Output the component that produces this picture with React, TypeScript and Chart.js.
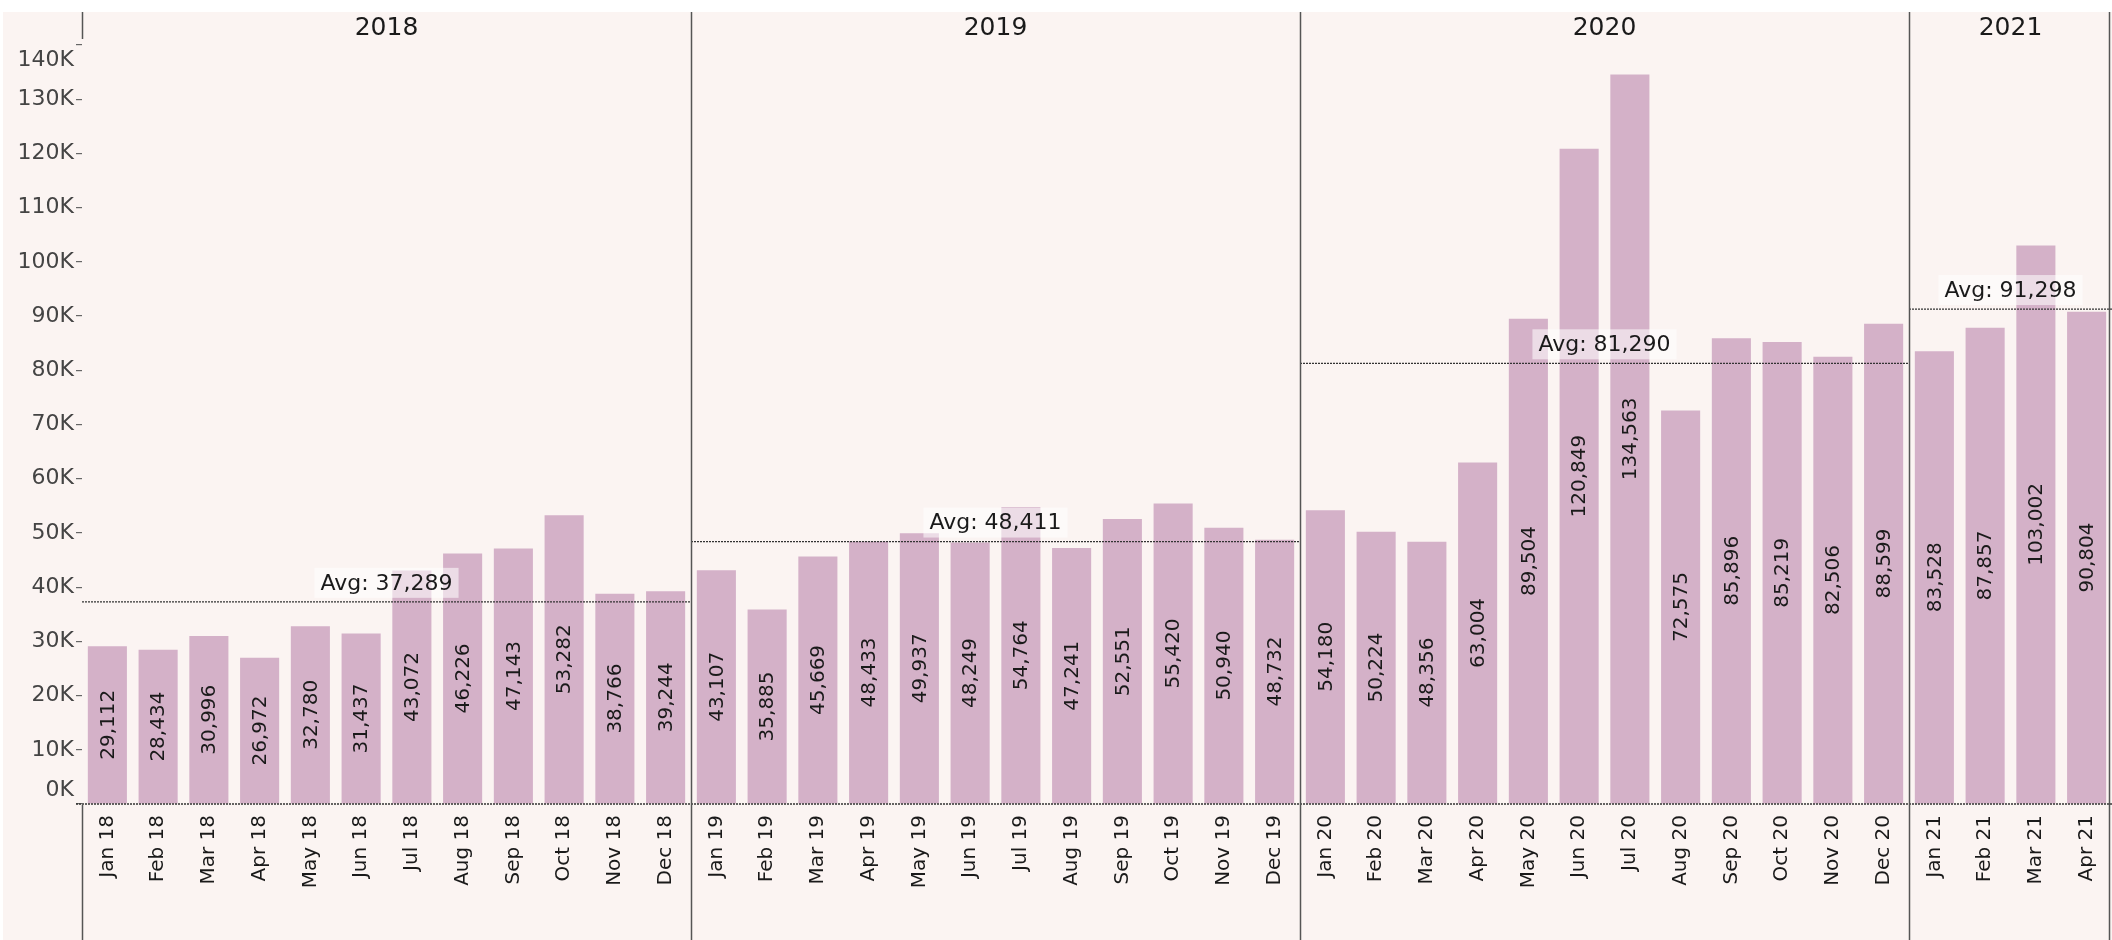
import React, { useEffect, useRef } from 'react';
import { Chart, registerables } from 'chart.js';

Chart.register(...registerables);

const years = ['2018', '2019', '2020', '2021'];
const monthNames = ['Jan', 'Feb', 'Mar', 'Apr', 'May', 'Jun', 'Jul', 'Aug', 'Sep', 'Oct', 'Nov', 'Dec'];
const sales2018 = [29112, 28434, 30996, 26972, 32780, 31437, 43072, 46226, 47143, 53282, 38766, 39244];
const sales2019 = [43107, 35885, 45669, 48433, 49937, 48249, 54764, 47241, 52551, 55420, 50940, 48732];
const sales2020 = [54180, 50224, 48356, 63004, 89504, 120849, 134563, 72575, 85896, 85219, 82506, 88599];
const sales2021 = [83528, 87857, 103002, 90804];
const yTickValues = [0, 10000, 20000, 30000, 40000, 50000, 60000, 70000, 80000, 90000, 100000, 110000, 120000, 130000, 140000];

const salesByYear = [sales2018, sales2019, sales2020, sales2021];
const categories = salesByYear.flatMap((arr, yi) =>
  arr.map((_, mi) => `${monthNames[mi]} ${years[yi].slice(2)}`)
);
const values = salesByYear.flat();

const FONT = "'DejaVu Sans', 'Noto Sans', sans-serif";
const BG = '#FBF4F2';
const BAR = '#D4B1C8';
const LINE = '#555555';

const overlay = {
  id: 'overlay',
  beforeDraw(chart: any) {
    const { ctx, width, height } = chart;
    ctx.save();
    ctx.fillStyle = '#ffffff';
    ctx.fillRect(0, 0, width, height);
    ctx.fillStyle = BG;
    ctx.fillRect(3, 12, width - 3, height - 12);
    ctx.restore();
  },
  afterDatasetsDraw(chart: any) {
    const { ctx, chartArea, scales, width, height } = chart;
    const xs = scales.x;
    const ys = scales.y;
    const meta = chart.getDatasetMeta(0);
    const half = (xs.getPixelForValue(1) - xs.getPixelForValue(0)) / 2;
    let start = 0;
    const panes = salesByYear.map((arr, yi) => {
      const s = start;
      start += arr.length;
      return { yi, s, e: start - 1, arr };
    });

    ctx.save();
    // bar value labels (rotated, centered in bar)
    meta.data.forEach((bar: any, i: number) => {
      const p = bar.getProps(['x', 'y', 'base'], true);
      ctx.save();
      ctx.translate(p.x, (p.y + p.base) / 2);
      ctx.rotate(-Math.PI / 2);
      ctx.font = `20px ${FONT}`;
      ctx.fillStyle = '#1a1a1a';
      ctx.textAlign = 'center';
      ctx.textBaseline = 'middle';
      ctx.fillText(values[i].toLocaleString('en-US'), 0, 1);
      ctx.restore();
    });

    // dotted zero baseline
    const baseY = ys.getPixelForValue(0);
    ctx.save();
    ctx.strokeStyle = '#333333';
    ctx.lineWidth = 1.3;
    ctx.setLineDash([2, 1]);
    ctx.beginPath();
    ctx.moveTo(chartArea.left - 6, baseY);
    ctx.lineTo(chartArea.right, baseY);
    ctx.stroke();
    ctx.restore();

    // average reference lines + labels
    panes.forEach((p) => {
      const left = xs.getPixelForValue(p.s) - half;
      const right = Math.min(xs.getPixelForValue(p.e) + half, chartArea.right);
      const avg = p.arr.reduce((a, b) => a + b, 0) / p.arr.length;
      const ly = ys.getPixelForValue(avg);
      ctx.save();
      ctx.strokeStyle = '#333333';
      ctx.lineWidth = 1.3;
      ctx.setLineDash([2, 1]);
      ctx.beginPath();
      ctx.moveTo(left, ly);
      ctx.lineTo(right, ly);
      ctx.stroke();
      ctx.restore();

      const text = `Avg: ${Math.round(avg).toLocaleString('en-US')}`;
      ctx.font = `22px ${FONT}`;
      const tw = ctx.measureText(text).width;
      const cx = (left + right) / 2;
      ctx.fillStyle = 'rgba(255,255,255,0.55)';
      ctx.fillRect(cx - tw / 2 - 6, ly - 34, tw + 12, 30);
      ctx.fillStyle = '#1a1a1a';
      ctx.textAlign = 'center';
      ctx.textBaseline = 'middle';
      ctx.fillText(text, cx, ly - 18);
    });

    // pane dividers and headers
    ctx.strokeStyle = LINE;
    ctx.lineWidth = 1.5;
    panes.forEach((p, idx) => {
      const left = xs.getPixelForValue(p.s) - half;
      const right = Math.min(xs.getPixelForValue(p.e) + half, chartArea.right);
      if (idx > 0) {
        ctx.beginPath();
        ctx.moveTo(Math.round(left) + 0.5, 12);
        ctx.lineTo(Math.round(left) + 0.5, height);
        ctx.stroke();
      }
      ctx.font = `25px ${FONT}`;
      ctx.fillStyle = '#1a1a1a';
      ctx.textAlign = 'center';
      ctx.textBaseline = 'middle';
      ctx.fillText(years[p.yi], (left + right) / 2, 28);
    });
    // left axis line segments (header and below axis)
    const lx = Math.round(chartArea.left) + 0.5;
    ctx.beginPath();
    ctx.moveTo(lx, 12);
    ctx.lineTo(lx, 39);
    ctx.moveTo(lx, baseY + 1);
    ctx.lineTo(lx, height);
    ctx.stroke();
    // right border
    ctx.beginPath();
    ctx.moveTo(width - 2.5, 12);
    ctx.lineTo(width - 2.5, height);
    ctx.stroke();

    // y tick labels (clamped inside the pane like Tableau)
    ctx.font = `22px ${FONT}`;
    ctx.fillStyle = '#444444';
    ctx.textAlign = 'right';
    ctx.textBaseline = 'middle';
    yTickValues.forEach((v) => {
      let py = ys.getPixelForValue(v);
      py = Math.max(chartArea.top + 15, Math.min(chartArea.bottom - 14, py));
      ctx.fillText(`${v / 1000}K`, chartArea.left - 8, py);
    });
    ctx.restore();
  },
};

export default function App() {
  const ref = useRef<HTMLCanvasElement | null>(null);
  useEffect(() => {
    if (!ref.current) return;
    const chart = new Chart(ref.current, {
      type: 'bar',
      data: {
        labels: categories,
        datasets: [
          {
            label: 'Sales',
            data: values,
            backgroundColor: BAR,
            barPercentage: 0.77,
            categoryPercentage: 1,
          },
        ],
      },
      options: {
        animation: false,
        responsive: false,
        devicePixelRatio: 1,
        layout: { padding: { left: 3, top: 45, right: 0, bottom: 0 } },
        plugins: { legend: { display: false }, tooltip: { enabled: false } },
        scales: {
          x: {
            grid: { display: false, drawTicks: false },
            border: { display: false },
            ticks: {
              autoSkip: false,
              maxRotation: 90,
              minRotation: 90,
              padding: 11,
              color: '#1a1a1a',
              font: { family: FONT, size: 20 },
            },
            afterFit: (s: any) => {
              s.height = 136;
              s.paddingLeft = 0;
              s.paddingRight = 0;
            },
          },
          y: {
            min: 0,
            max: 140000,
            ticks: { stepSize: 10000, display: false },
            grid: {
              display: true,
              drawOnChartArea: false,
              drawTicks: true,
              tickLength: 6,
              color: '#666666',
              lineWidth: 1.2,
            },
            border: { display: false },
            afterFit: (s: any) => {
              s.width = 79;
              s.paddingTop = 0;
              s.paddingBottom = 0;
            },
          },
        },
      },
      plugins: [overlay],
    });
    return () => chart.destroy();
  }, []);
  return (
    <div style={{ position: 'fixed', left: 0, top: 0, width: 2112, height: 940 }}>
      <canvas ref={ref} width={2112} height={940} style={{ display: 'block' }} />
    </div>
  );
}
